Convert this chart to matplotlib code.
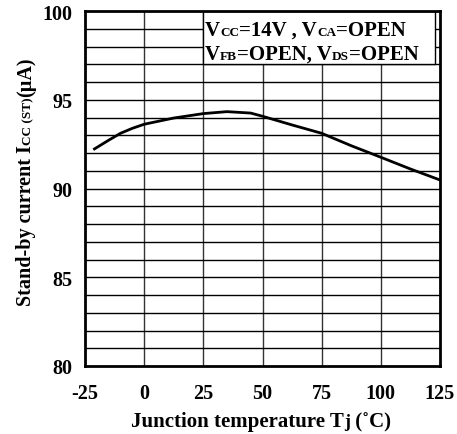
import matplotlib
matplotlib.use('Agg')
import matplotlib.pyplot as plt
from matplotlib.patches import Rectangle
from matplotlib.transforms import IdentityTransform

# data
temp = [-21, -15, -10, -5, 0, 12.5, 25, 35, 45, 50, 62.5, 75, 87.5, 100, 112.5, 125]
icc = [92.23, 92.72, 93.11, 93.39, 93.62, 93.97, 94.22, 94.33, 94.25, 94.07,
       93.58, 93.11, 92.41, 91.76, 91.10, 90.48]

x_ticks = [-25, 0, 25, 50, 75, 100, 125]
y_ticks = [80, 85, 90, 95, 100]

FONT = 'Liberation Serif'
W, H = 457, 435
plt.rcParams['axes.unicode_minus'] = False

fig = plt.figure(figsize=(W / 100, H / 100), dpi=100)
ax = fig.add_axes([85 / W, 1 - 367 / H, 355 / W, 355 / H])
ax.set_xlim(-25, 125)
ax.set_ylim(80, 100)

# grid: every 25 degC, every 1 uA
for x in x_ticks[1:-1]:
    ax.axvline(x, color='#333333', linewidth=1.0, zorder=1)
for y in range(81, 100):
    ax.axhline(y, color='black', linewidth=1.0, zorder=1)

# white box behind the condition text
ax.add_patch(Rectangle((25, 97), 98, 3, facecolor='white', edgecolor='black',
                       linewidth=1.0, zorder=2))

ax.plot(temp, icc, color='black', linewidth=2.0, zorder=3)

ax.set_xticks(x_ticks)
ax.set_yticks(y_ticks)
ax.tick_params(length=0, labelsize=14.5)
ax.tick_params(axis='x', pad=12)
ax.tick_params(axis='y', pad=9)
for lab in ax.get_xticklabels() + ax.get_yticklabels():
    lab.set_family(FONT)
    lab.set_fontweight('bold')
for s in ax.spines.values():
    s.set_linewidth(2.0)
    s.set_zorder(4)

renderer = fig.canvas.get_renderer()


def draw_runs(runs, x, y, rotation=0, center=False):
    # runs of (text, size) placed one after another, x/y in pixels from top-left
    texts, widths = [], []
    for s, size in runs:
        t = fig.text(0, 0, s, fontsize=size, fontweight='bold', family=FONT,
                     ha='left', va='baseline', transform=IdentityTransform())
        widths.append(t.get_window_extent(renderer).width)
        texts.append(t)
    pos = -sum(widths) / 2 if center else 0
    for t, w in zip(texts, widths):
        if rotation:
            t.set_rotation(90)
            t.set_rotation_mode('anchor')
            t.set_position((x, H - y + pos))
        else:
            t.set_position((x + pos, H - y))
        pos += w


BIG, SMALL = 15, 9.5
draw_runs([('V', BIG), ('CC', SMALL), ('=14V , V', BIG), ('CA', SMALL), ('=OPEN', BIG)],
          205, 36)
draw_runs([('V', BIG), ('FB', SMALL), ('=OPEN, V', BIG), ('DS', SMALL), ('=OPEN', BIG)],
          205, 60)

draw_runs([('Junction temperature T', 15), ('j', 13), (' (\u02daC)', 15)],
          261, 427, center=True)
draw_runs([('Stand-by current I', 14.5), ('CC (ST)', 9.5), ('(\u00b5A)', 14.5)],
          31, 182, rotation=90, center=True)

fig.savefig('out.png', dpi=100)
